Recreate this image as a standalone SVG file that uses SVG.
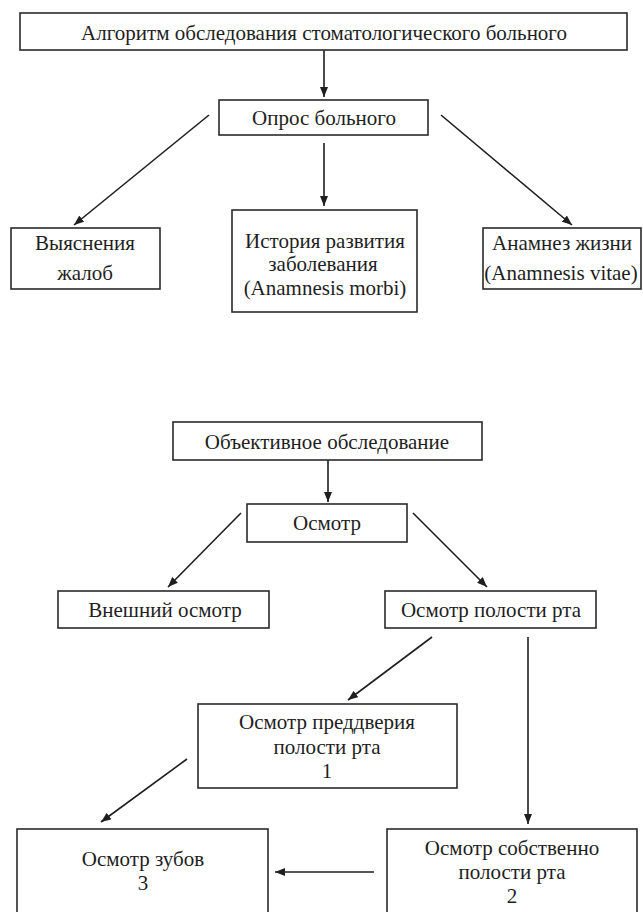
<svg xmlns="http://www.w3.org/2000/svg" width="643" height="912" viewBox="0 0 643 912">
<style>
.box{fill:#fff;stroke:#2a2a2a;stroke-width:1.6}
.t{font-family:"Liberation Serif","Times New Roman",serif;font-size:21px;fill:#1e1e1e;text-anchor:middle}
.c{stroke:#1e1e1e;stroke-width:1.6;fill:none;marker-end:url(#ah)}
</style>
<defs>
<marker id="ah" markerUnits="userSpaceOnUse" markerWidth="10" markerHeight="8" refX="10" refY="4" orient="auto">
<path d="M0,0 L10,4 L0,8 z" fill="#1e1e1e"/>
</marker>
</defs>
<rect width="643" height="912" fill="#fff"/>
<g id="connectors">
<line class="c" x1="324" y1="50" x2="324" y2="97"/>
<line class="c" x1="209" y1="115" x2="74" y2="225"/>
<line class="c" x1="324" y1="143" x2="324" y2="206"/>
<line class="c" x1="441" y1="115" x2="572" y2="225"/>
<line class="c" x1="328" y1="460" x2="328" y2="502"/>
<line class="c" x1="241" y1="513" x2="168" y2="587"/>
<line class="c" x1="413" y1="513" x2="487" y2="587"/>
<line class="c" x1="432" y1="637" x2="348" y2="700"/>
<line class="c" x1="528" y1="637" x2="528" y2="824"/>
<line class="c" x1="187" y1="759" x2="101" y2="822"/>
<line class="c" x1="374" y1="872" x2="275" y2="872"/>
</g>
<g id="n-algoritm">
<rect class="box" x="20" y="13" width="607" height="37"/>
<text class="t" x="324" y="40">Алгоритм обследования стоматологического больного</text>
</g>
<g id="n-opros">
<rect class="box" x="219" y="100" width="209" height="35"/>
<text class="t" x="324" y="125">Опрос больного</text>
</g>
<g id="n-zhaloby">
<rect class="box" x="11" y="228" width="149" height="61"/>
<text class="t" x="85" y="250">Выяснения</text>
<text class="t" x="85" y="280">жалоб</text>
</g>
<g id="n-morbi">
<rect class="box" x="232" y="210" width="185" height="102"/>
<text class="t" x="325" y="248">История развития</text>
<text class="t" x="323" y="271">заболевания</text>
<text class="t" x="325" y="295">(Anamnesis morbi)</text>
</g>
<g id="n-vitae">
<rect class="box" x="483" y="228" width="158" height="61"/>
<text class="t" x="562" y="250">Анамнез жизни</text>
<text class="t" x="561" y="280">(Anamnesis vitae)</text>
</g>
<g id="n-obj">
<rect class="box" x="173" y="422" width="309" height="38"/>
<text class="t" x="327" y="449">Объективное обследование</text>
</g>
<g id="n-osmotr">
<rect class="box" x="247" y="504" width="160" height="38"/>
<text class="t" x="327" y="530">Осмотр</text>
</g>
<g id="n-vneshniy">
<rect class="box" x="58" y="591" width="211" height="37"/>
<text class="t" x="165" y="617">Внешний осмотр</text>
</g>
<g id="n-polost">
<rect class="box" x="385" y="591" width="211" height="37"/>
<text class="t" x="491" y="617">Осмотр полости рта</text>
</g>
<g id="n-preddveriye">
<rect class="box" x="198" y="704" width="259" height="84"/>
<text class="t" x="327" y="729">Осмотр преддверия</text>
<text class="t" x="327" y="754">полости рта</text>
<text class="t" x="327" y="778">1</text>
</g>
<g id="n-zuby">
<rect class="box" x="17" y="829" width="251" height="90"/>
<text class="t" x="143" y="866">Осмотр зубов</text>
<text class="t" x="143" y="890">3</text>
</g>
<g id="n-sobstvenno">
<rect class="box" x="387" y="829" width="250" height="90"/>
<text class="t" x="512" y="855">Осмотр собственно</text>
<text class="t" x="512" y="879">полости рта</text>
<text class="t" x="512" y="903">2</text>
</g>
</svg>
